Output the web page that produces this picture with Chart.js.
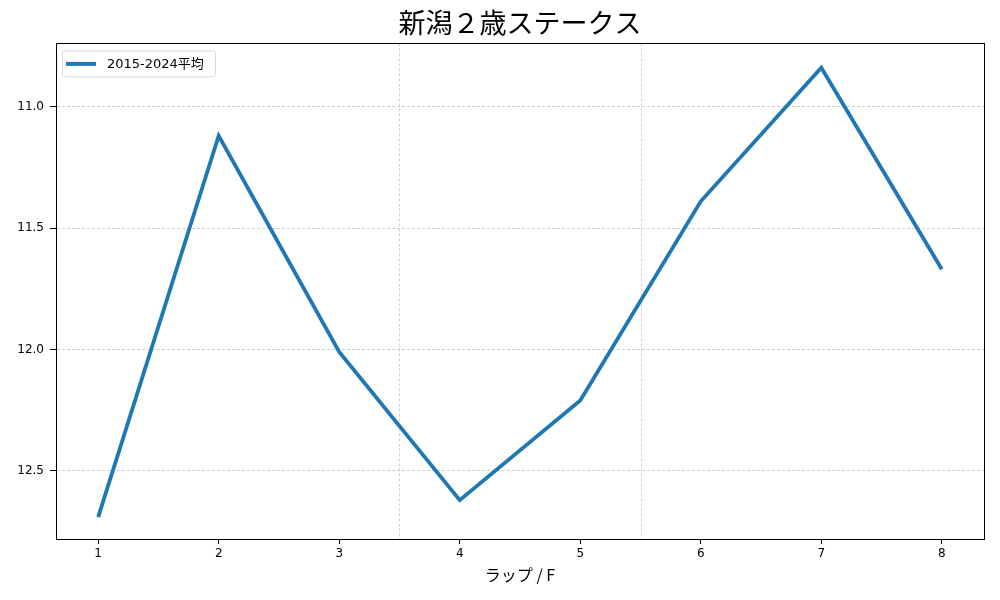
<!DOCTYPE html>
<html>
<head>
<meta charset="utf-8">
<script src="https://cdn.jsdelivr.net/npm/chart.js@4.4.1/dist/chart.umd.min.js"></script>
<style>
  html, body { margin: 0; padding: 0; background: #fff; }
  #wrap { width: 1000px; height: 600px; }
</style>
</head>
<body>
<div id="wrap"><canvas id="chart" width="1000" height="600"></canvas></div>
<script>
/* ---- Данные ---- */
const TITLE = "新潟２歳ステークス";
const X_LABEL = "ラップ / F";
const SERIES_LABEL = "2015-2024平均";
const LAPS = [1, 2, 3, 4, 5, 6, 7, 8];
const LAP_TIMES = [12.69, 11.12, 12.01, 12.62, 12.21, 11.39, 10.84, 11.67];
const X_TICKS = [1, 2, 3, 4, 5, 6, 7, 8];
const Y_TICKS = [11.0, 11.5, 12.0, 12.5];
const SECTION_MARKS = [3.5, 5.5];   // вертикальные пунктиры

const FONT = "'Noto Sans CJK JP', 'Noto Sans', sans-serif";
const NUM_FONT = "'DejaVu Sans', 'Noto Sans CJK JP', sans-serif";
const LINE_COLOR = "#1f77b4";

/* ---- Рамка, пунктиры по участкам, легенда ---- */
const framePlugin = {
  id: "frame",
  beforeDatasetsDraw(chart) {
    const { ctx, chartArea: a, scales } = chart;
    ctx.save();
    ctx.strokeStyle = "#c8c8c8";
    ctx.lineWidth = 0.8;
    ctx.setLineDash([3, 2]);
    SECTION_MARKS.forEach(v => {
      const x = Math.round(scales.x.getPixelForValue(v)) + 0.5;
      ctx.beginPath();
      ctx.moveTo(x, a.top);
      ctx.lineTo(x, a.bottom);
      ctx.stroke();
    });
    ctx.restore();
  },
  afterDraw(chart) {
    const { ctx, chartArea: a } = chart;
    ctx.save();
    ctx.strokeStyle = "#000";
    ctx.lineWidth = 1;
    ctx.strokeRect(Math.round(a.left) + 0.5, Math.round(a.top) + 0.5,
                   Math.round(a.right - a.left), Math.round(a.bottom - a.top));

    // легенда
    const lx = a.left + 6, ly = a.top + 7;
    ctx.fillStyle = "rgba(255,255,255,0.8)";
    ctx.strokeStyle = "#d6d6d6";
    ctx.beginPath();
    ctx.roundRect(lx + 0.5, ly + 0.5, 153, 26, 3);
    ctx.fill();
    ctx.stroke();
    ctx.strokeStyle = LINE_COLOR;
    ctx.lineWidth = 4;
    ctx.beginPath();
    ctx.moveTo(lx + 4, ly + 13.5);
    ctx.lineTo(lx + 34, ly + 13.5);
    ctx.stroke();
    ctx.fillStyle = "#000";
    ctx.font = "13px " + NUM_FONT;
    ctx.textBaseline = "middle";
    ctx.fillText(chart.data.datasets[0].label, lx + 45, ly + 14);
    ctx.restore();
  }
};

new Chart(document.getElementById("chart"), {
  type: "line",
  data: {
    datasets: [{
      label: SERIES_LABEL,
      data: LAPS.map((x, i) => ({ x, y: LAP_TIMES[i] })),
      borderColor: LINE_COLOR,
      backgroundColor: LINE_COLOR,
      borderWidth: 3.8,
      pointRadius: 0,
      tension: 0,
      fill: false
    }]
  },
  options: {
    responsive: false,
    animation: false,
    devicePixelRatio: 1,
    layout: { padding: { left: 0, right: 16, top: 0, bottom: 0 } },
    plugins: {
      legend: { display: false },
      tooltip: { enabled: false },
      title: {
        display: true,
        text: TITLE,
        fullSize: false,
        color: "#000",
        font: { family: FONT, size: 27, weight: "normal", lineHeight: 1.2 },
        padding: { top: 7, bottom: 4 }
      }
    },
    scales: {
      x: {
        type: "linear",
        min: 0.65, max: 8.35,
        afterBuildTicks: s => { s.ticks = X_TICKS.map(v => ({ value: v })); },
        afterFit: s => { s.height = 61; },
        border: { display: true, color: "#000", width: 1 },
        grid: { drawOnChartArea: false, drawTicks: true, tickLength: 5, tickColor: "#000", tickWidth: 1 },
        ticks: { color: "#000", padding: 3, font: { family: NUM_FONT, size: 12 }, maxRotation: 0 },
        title: {
          display: true, text: X_LABEL, color: "#000",
          font: { family: FONT, size: 16, lineHeight: 1.2 },
          padding: { top: 0, bottom: 15 }
        }
      },
      y: {
        type: "linear",
        reverse: true,
        min: 10.74, max: 12.78,
        afterBuildTicks: s => { s.ticks = Y_TICKS.map(v => ({ value: v })); },
        afterFit: s => { s.width = 56; },
        border: { display: true, color: "#000", width: 1, dash: [3, 2] },
        grid: {
          color: "#b8b8b8", lineWidth: 0.7,
          drawTicks: true, tickLength: 6, tickColor: "#000", tickWidth: 1, tickBorderDash: []
        },
        ticks: {
          color: "#000", padding: 6, font: { family: NUM_FONT, size: 12 },
          callback: v => v.toFixed(1)
        }
      }
    }
  },
  plugins: [framePlugin]
});
</script>
</body>
</html>
